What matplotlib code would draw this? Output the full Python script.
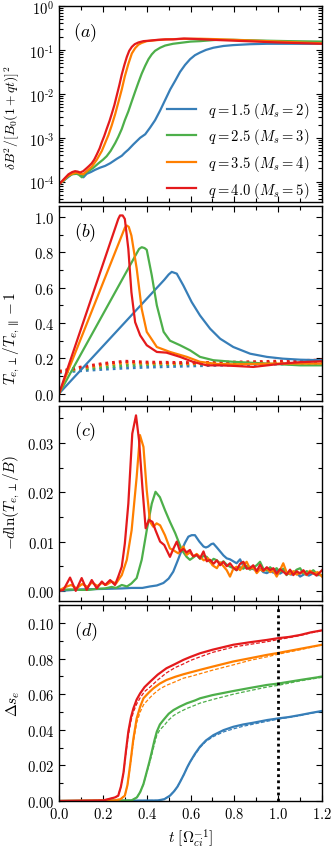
import numpy as np
import matplotlib
matplotlib.use("Agg")
import matplotlib.pyplot as plt
from matplotlib.ticker import MultipleLocator, FuncFormatter, LogLocator, NullFormatter

plt.rcParams['mathtext.fontset'] = 'cm'
plt.rcParams['font.family'] = ['DejaVu Serif']

colors = {'q15': '#377eb8', 'q25': '#4daf4a', 'q35': '#ff7f00', 'q40': '#e41a1c'}
labels = [r'$q=1.5\ (M_s=2)$', r'$q=2.5\ (M_s=3)$', r'$q=3.5\ (M_s=4)$', r'$q=4.0\ (M_s=5)$']

# ---------------- panel (a): log10 of dB^2/[B0(1+qt)]^2 ----------------
a_t_q15 = [0.0, 0.015, 0.035, 0.058, 0.08, 0.096, 0.111, 0.126, 0.145, 0.164, 0.187, 0.21, 0.233, 0.248, 0.263,
           0.286, 0.30, 0.316, 0.339, 0.37, 0.393, 0.415, 0.438, 0.461, 0.484, 0.507, 0.53, 0.552, 0.575, 0.598,
           0.62, 0.643, 0.67, 0.704, 0.75, 0.795, 0.87, 0.948, 1.05, 1.2]
a_v_q15 = [-4.06, -4.0, -3.92, -3.83, -3.8, -3.82, -3.9, -3.82, -3.78, -3.73, -3.68, -3.64, -3.58, -3.53, -3.48,
           -3.41, -3.34, -3.27, -3.15, -3.0, -2.92, -2.77, -2.6, -2.38, -2.14, -1.9, -1.7, -1.5, -1.34, -1.21,
           -1.12, -1.06, -1.0, -0.95, -0.91, -0.89, -0.87, -0.86, -0.86, -0.86]
a_t_q25 = [0.0, 0.02, 0.04, 0.06, 0.08, 0.09, 0.104, 0.12, 0.134, 0.157, 0.18, 0.2, 0.217, 0.235, 0.256, 0.27,
           0.286, 0.30, 0.316, 0.331, 0.347, 0.362, 0.377, 0.393, 0.408, 0.423, 0.438, 0.461, 0.484, 0.52, 0.552,
           0.6, 0.643, 0.72, 0.795, 0.87, 0.95, 1.05, 1.2]
a_v_q25 = [-4.05, -3.98, -3.88, -3.83, -3.82, -3.84, -3.9, -3.8, -3.76, -3.68, -3.58, -3.5, -3.42, -3.3, -3.12, -2.98,
           -2.8, -2.6, -2.4, -2.18, -1.95, -1.74, -1.54, -1.36, -1.21, -1.1, -1.02, -0.95, -0.9, -0.86, -0.84,
           -0.81, -0.8, -0.77, -0.77, -0.78, -0.79, -0.80, -0.81]
a_t_q35 = [0.0, 0.02, 0.04, 0.06, 0.08, 0.096, 0.11, 0.126, 0.149, 0.172, 0.195, 0.21, 0.225, 0.24, 0.256, 0.27,
           0.286, 0.30, 0.316, 0.332, 0.347, 0.362, 0.377, 0.40, 0.438, 0.49, 0.55, 0.643, 0.72, 0.795, 0.9, 1.0,
           1.1, 1.2]
a_v_q35 = [-4.05, -3.97, -3.87, -3.82, -3.79, -3.82, -3.83, -3.76, -3.66, -3.5, -3.3, -3.12, -2.94, -2.72, -2.46,
           -2.2, -1.9, -1.6, -1.32, -1.08, -0.96, -0.88, -0.84, -0.8, -0.78, -0.76, -0.75, -0.745, -0.755, -0.77,
           -0.79, -0.81, -0.83, -0.85]
a_t_q40 = [0.0, 0.02, 0.043, 0.06, 0.073, 0.085, 0.096, 0.11, 0.126, 0.137, 0.149, 0.16, 0.172, 0.185, 0.195,
           0.206, 0.217, 0.23, 0.24, 0.252, 0.263, 0.275, 0.286, 0.298, 0.309, 0.32, 0.332, 0.345, 0.362, 0.385,
           0.41, 0.45, 0.484, 0.52, 0.57, 0.62, 0.70, 0.8, 0.9, 1.0, 1.1, 1.2]
a_v_q40 = [-4.06, -3.95, -3.83, -3.78, -3.76, -3.77, -3.79, -3.76, -3.69, -3.64, -3.58, -3.5, -3.38, -3.24, -3.1,
           -2.96, -2.8, -2.62, -2.46, -2.26, -2.04, -1.8, -1.56, -1.34, -1.16, -1.02, -0.93, -0.87, -0.83, -0.8,
           -0.79, -0.77, -0.76, -0.76, -0.74, -0.75, -0.77, -0.79, -0.81, -0.83, -0.845, -0.86]

# ---------------- panel (b): anisotropy ----------------
b_t_q15 = [0.0, 0.48, 0.50, 0.514, 0.537, 0.567, 0.605, 0.643, 0.689, 0.735, 0.795, 0.872, 0.948, 1.02, 1.1, 1.2]
b_v_q15 = [0.0, 0.645, 0.675, 0.69, 0.68, 0.613, 0.519, 0.443, 0.368, 0.311, 0.264, 0.226, 0.208, 0.198, 0.192, 0.189]
b_t_q25 = [0.0, 0.365, 0.377, 0.39, 0.40, 0.423, 0.446, 0.477, 0.506, 0.552, 0.598, 0.643, 0.704, 0.795, 0.95, 1.1, 1.2]
b_v_q25 = [0.0, 0.82, 0.83, 0.825, 0.815, 0.67, 0.5, 0.35, 0.30, 0.274, 0.245, 0.208, 0.189, 0.18, 0.17, 0.16, 0.16]
b_t_q35 = [0.0, 0.30, 0.309, 0.318, 0.33, 0.354, 0.377, 0.40, 0.446, 0.506, 0.583, 0.643, 0.72, 0.795, 0.9, 1.0, 1.2]
b_v_q35 = [0.0, 0.94, 0.953, 0.945, 0.896, 0.71, 0.48, 0.35, 0.264, 0.236, 0.208, 0.18, 0.168, 0.166, 0.168, 0.17, 0.17]
b_t_q40 = [0.0, 0.27, 0.278, 0.29, 0.30, 0.316, 0.33, 0.347, 0.37, 0.40, 0.446, 0.49, 0.552, 0.613, 0.674, 0.735,
           0.795, 0.886, 0.95, 1.02, 1.1, 1.2]
b_v_q40 = [0.0, 0.99, 1.01, 1.01, 0.99, 0.82, 0.575, 0.405, 0.33, 0.274, 0.236, 0.232, 0.208, 0.179, 0.16, 0.16,
           0.157, 0.151, 0.16, 0.17, 0.178, 0.183]
# dotted companions
bd_t = [0.0, 0.1, 0.2, 0.3, 0.4, 0.6, 0.8, 1.0, 1.2]
bd_v_q15 = [0.12, 0.13, 0.138, 0.145, 0.15, 0.157, 0.163, 0.168, 0.172]
bd_v_q25 = [0.123, 0.138, 0.15, 0.16, 0.165, 0.168, 0.17, 0.172, 0.175]
bd_v_q35 = [0.125, 0.145, 0.163, 0.175, 0.172, 0.17, 0.172, 0.178, 0.185]
bd_v_q40 = [0.125, 0.15, 0.17, 0.183, 0.178, 0.175, 0.178, 0.183, 0.19]

# ---------------- panel (c): -d ln(T_perp/B) ----------------
c_t_q40 = [0.0, 0.02, 0.05, 0.076, 0.103, 0.126, 0.149, 0.172, 0.195, 0.21, 0.233, 0.255, 0.27, 0.286, 0.30, 0.316,
           0.334, 0.351, 0.365, 0.38, 0.395, 0.41, 0.426, 0.44, 0.461, 0.48, 0.506, 0.521, 0.537, 0.552, 0.567, 0.582,
           0.597, 0.612, 0.628, 0.643, 0.659, 0.674, 0.689, 0.705, 0.72, 0.735, 0.75, 0.765, 0.78, 0.795, 0.81, 0.826,
           0.841, 0.856, 0.871, 0.886, 0.902, 0.917, 0.932, 0.948, 0.963, 0.978, 0.993, 1.008, 1.023, 1.038, 1.054,
           1.069, 1.084, 1.1, 1.115, 1.13, 1.145, 1.16, 1.175, 1.2]
c_v_q40 = [0.0, 0.0002, 0.0027, 0.0, 0.0026, 0.0002, 0.0022, 0.0005, 0.0019, 0.0012, 0.0022, 0.0012, 0.0029, 0.0049,
           0.0096, 0.0177, 0.0319, 0.0356, 0.0305, 0.0211, 0.0127, 0.0144, 0.014, 0.0123, 0.01, 0.0093, 0.0069, 0.0085,
           0.01, 0.008, 0.0085, 0.0078, 0.0083, 0.007, 0.0073, 0.0066, 0.008, 0.006, 0.0063, 0.0055, 0.0062, 0.0052,
           0.0059, 0.005, 0.0056, 0.0047, 0.0042, 0.0055, 0.0059, 0.0045, 0.0046, 0.0052, 0.004, 0.0053, 0.0041, 0.0048,
           0.0042, 0.0046, 0.0035, 0.0044, 0.0039, 0.0033, 0.0043, 0.0032, 0.004, 0.0035, 0.0042, 0.0033, 0.0038,
           0.0036, 0.0031, 0.0042]
c_t_q35 = [0.0, 0.03, 0.055, 0.08, 0.105, 0.13, 0.149, 0.175, 0.195, 0.215, 0.24, 0.26, 0.275, 0.286, 0.309, 0.331,
           0.354, 0.369, 0.385, 0.4, 0.415, 0.43, 0.445, 0.461, 0.483, 0.506, 0.52, 0.53, 0.545, 0.567, 0.582, 0.597,
           0.613, 0.628, 0.643, 0.66, 0.68, 0.7, 0.72, 0.735, 0.75, 0.765, 0.78, 0.795, 0.81, 0.826, 0.841, 0.856,
           0.871, 0.886, 0.902, 0.917, 0.932, 0.948, 0.963, 0.978, 0.993, 1.008, 1.023, 1.038, 1.054, 1.069, 1.084,
           1.1, 1.115, 1.13, 1.145, 1.16, 1.18, 1.2]
c_v_q35 = [0.0001, 0.0008, 0.0012, 0.0005, 0.0014, 0.0008, 0.0017, 0.001, 0.0016, 0.0012, 0.0019, 0.0015, 0.0025,
           0.0032, 0.0063, 0.0123, 0.0231, 0.0316, 0.0292, 0.0204, 0.014, 0.013, 0.0137, 0.0133, 0.0113, 0.0086,
           0.0083, 0.008, 0.0076, 0.009, 0.0073, 0.0078, 0.007, 0.0075, 0.0069, 0.0062, 0.0066, 0.0052, 0.0046, 0.0058,
           0.005, 0.0042, 0.0029, 0.0045, 0.0049, 0.0042, 0.0052, 0.0059, 0.0045, 0.0048, 0.0036, 0.0044, 0.004,
           0.0046, 0.0038, 0.0041, 0.0029, 0.0042, 0.0056, 0.0038, 0.0034, 0.004, 0.0033, 0.0037, 0.0039, 0.0032,
           0.0041, 0.0035, 0.0038, 0.0029]
c_t_q25 = [0.0, 0.05, 0.1, 0.134, 0.17, 0.21, 0.24, 0.26, 0.286, 0.31, 0.33, 0.354, 0.377, 0.4, 0.423, 0.44, 0.46,
           0.483, 0.506, 0.53, 0.545, 0.56, 0.582, 0.597, 0.613, 0.628, 0.643, 0.659, 0.674, 0.689, 0.705, 0.72, 0.735,
           0.75, 0.765, 0.78, 0.795, 0.81, 0.826, 0.841, 0.856, 0.871, 0.886, 0.902, 0.917, 0.932, 0.948, 0.963,
           0.978, 0.993, 1.008, 1.023, 1.038, 1.054, 1.069, 1.084, 1.1, 1.115, 1.13, 1.145, 1.16, 1.18, 1.2]
c_v_q25 = [0.0002, 0.0003, 0.0002, 0.0002, 0.0004, 0.0005, 0.0008, 0.0006, 0.0012, 0.0009, 0.0015, 0.0026, 0.0063,
           0.0123, 0.0177, 0.0201, 0.019, 0.0164, 0.014, 0.0117, 0.01, 0.0083, 0.0069, 0.0063, 0.0068, 0.0073,
           0.0065, 0.0071, 0.0069, 0.0058, 0.0065, 0.0062, 0.0055, 0.006, 0.0053, 0.0049, 0.0046, 0.0042, 0.0048,
           0.0045, 0.0051, 0.0043, 0.0047, 0.0052, 0.0059, 0.0045, 0.0041, 0.0048, 0.0042, 0.0046, 0.0038, 0.0045,
           0.0032, 0.0041, 0.0036, 0.0043, 0.0046, 0.0035, 0.004, 0.0037, 0.0042, 0.0033, 0.0032]
c_t_q15 = [0.0, 0.1, 0.2, 0.286, 0.33, 0.38, 0.415, 0.446, 0.476, 0.5, 0.521, 0.54, 0.56, 0.575, 0.59, 0.605, 0.62,
           0.64, 0.659, 0.67, 0.681, 0.695, 0.704, 0.72, 0.735, 0.75, 0.765, 0.78, 0.795, 0.81, 0.826, 0.841, 0.856,
           0.871, 0.886, 0.902, 0.917, 0.932, 0.948, 0.963, 0.978, 0.993, 1.008, 1.023, 1.04, 1.06, 1.08, 1.1, 1.12,
           1.14, 1.16, 1.18, 1.2]
c_v_q15 = [0.0, 0.0003, 0.0004, 0.0005, 0.0006, 0.0006, 0.0009, 0.0011, 0.0016, 0.0025, 0.0039, 0.006, 0.0083,
           0.0098, 0.011, 0.0113, 0.0113, 0.01, 0.009, 0.0088, 0.009, 0.0095, 0.0096, 0.0088, 0.008, 0.0072, 0.0066,
           0.0064, 0.006, 0.0056, 0.0064, 0.005, 0.0046, 0.0049, 0.0044, 0.0042, 0.0045, 0.0038, 0.0036, 0.004,
           0.0037, 0.0042, 0.0035, 0.0039, 0.0036, 0.0033, 0.0038, 0.0029, 0.0034, 0.0031, 0.0036, 0.0032, 0.0032]

# ---------------- panel (d): entropy Delta s_e (solid) and model (dashed) ----------------
d_t_q40 = [0.0, 0.2, 0.233, 0.255, 0.27, 0.282, 0.294, 0.305, 0.316, 0.328, 0.339, 0.354, 0.37, 0.39, 0.415, 0.45,
           0.49, 0.53, 0.567, 0.6, 0.643, 0.7, 0.795, 0.87, 0.948, 1.0, 1.05, 1.1, 1.15, 1.2]
d_v_q40 = [0.0, 0.0003, 0.0013, 0.002, 0.003, 0.008, 0.016, 0.028, 0.039, 0.047, 0.052, 0.057, 0.0605, 0.064, 0.067,
           0.071, 0.0746, 0.077, 0.0793, 0.081, 0.083, 0.085, 0.0878, 0.0892, 0.0905, 0.0915, 0.0922, 0.0933, 0.0948,
           0.0959]
d_m_q40 = [0.0, 0.0003, 0.0013, 0.002, 0.003, 0.008, 0.016, 0.027, 0.037, 0.045, 0.05, 0.0545, 0.058, 0.0615, 0.064,
           0.068, 0.072, 0.075, 0.077, 0.079, 0.081, 0.0835, 0.0865, 0.088, 0.0895, 0.0907, 0.0918, 0.093, 0.0945,
           0.0957]
d_t_q35 = [0.0, 0.25, 0.28, 0.3, 0.312, 0.324, 0.332, 0.339, 0.347, 0.354, 0.37, 0.385, 0.41, 0.43, 0.46, 0.49, 0.53,
           0.567, 0.6, 0.643, 0.7, 0.795, 0.87, 0.948, 1.0, 1.1, 1.2]
d_v_q35 = [0.0, 0.0003, 0.001, 0.003, 0.009, 0.02, 0.028, 0.035, 0.041, 0.0464, 0.053, 0.0577, 0.061, 0.0633, 0.066,
           0.068, 0.0698, 0.0712, 0.0723, 0.0737, 0.0755, 0.0784, 0.0802, 0.0821, 0.0832, 0.0855, 0.0878]
d_m_q35 = [0.0, 0.0003, 0.001, 0.003, 0.009, 0.019, 0.027, 0.033, 0.039, 0.044, 0.05, 0.054, 0.0575, 0.06, 0.063,
           0.065, 0.067, 0.069, 0.07, 0.0715, 0.0735, 0.0765, 0.079, 0.081, 0.0825, 0.085, 0.0877]
d_t_q25 = [0.0, 0.33, 0.355, 0.37, 0.385, 0.4, 0.412, 0.423, 0.435, 0.446, 0.46, 0.476, 0.5, 0.522, 0.55, 0.583, 0.62,
           0.643, 0.7, 0.795, 0.87, 0.948, 1.0, 1.1, 1.2]
d_v_q25 = [0.0, 0.0003, 0.002, 0.005, 0.0095, 0.0164, 0.022, 0.0276, 0.034, 0.039, 0.043, 0.0455, 0.049, 0.0511,
           0.053, 0.0549, 0.0565, 0.0577, 0.0595, 0.0618, 0.0635, 0.0652, 0.066, 0.068, 0.0699]
d_m_q25 = [0.0, 0.0003, 0.002, 0.005, 0.0095, 0.016, 0.021, 0.026, 0.032, 0.037, 0.04, 0.042, 0.0455, 0.048, 0.05,
           0.052, 0.0538, 0.055, 0.057, 0.06, 0.062, 0.064, 0.065, 0.0675, 0.0695]
d_t_q15 = [0.0, 0.45, 0.48, 0.506, 0.525, 0.54, 0.552, 0.57, 0.585, 0.598, 0.62, 0.643, 0.67, 0.704, 0.75, 0.795,
           0.84, 0.887, 0.95, 1.0, 1.05, 1.1, 1.15, 1.2]
d_v_q15 = [0.0, 0.0003, 0.001, 0.003, 0.0055, 0.008, 0.0107, 0.015, 0.019, 0.022, 0.0265, 0.0305, 0.034, 0.037,
           0.0398, 0.0417, 0.043, 0.044, 0.0455, 0.0464, 0.0472, 0.0483, 0.0495, 0.0506]
d_m_q15 = [0.0, 0.0003, 0.001, 0.003, 0.0055, 0.008, 0.0107, 0.015, 0.019, 0.022, 0.026, 0.030, 0.0335, 0.0362,
           0.0388, 0.0405, 0.042, 0.0432, 0.0448, 0.046, 0.047, 0.048, 0.0493, 0.0505]
t_mark = 1.0

keys = ['q15', 'q25', 'q35', 'q40']

fig = plt.figure(figsize=(3.32, 8.54), dpi=100)
gs = fig.add_gridspec(4, 1, left=0.178, right=0.970, top=0.9918, bottom=0.0609, hspace=0.0205)
axes = [fig.add_subplot(gs[i]) for i in range(4)]

lw = 1.6
tick_fs = 10.5

def fmt(decimals):
    return FuncFormatter(lambda v, p: r'$%.*f$' % (decimals, v))

for ax in axes:
    ax.set_xlim(0, 1.2)
    ax.xaxis.set_major_locator(MultipleLocator(0.2))
    ax.xaxis.set_minor_locator(MultipleLocator(0.1))
    ax.tick_params(which='both', direction='in', top=True, right=True, labelsize=tick_fs, width=0.8)
    ax.tick_params(which='major', length=4)
    ax.tick_params(which='minor', length=3)
    for s in ax.spines.values():
        s.set_linewidth(1.0)
    ax.xaxis.set_major_formatter(fmt(1))

for ax in axes[:3]:
    ax.tick_params(labelbottom=False)

# (a)
ax = axes[0]
a_data = {'q15': (a_t_q15, a_v_q15), 'q25': (a_t_q25, a_v_q25), 'q35': (a_t_q35, a_v_q35), 'q40': (a_t_q40, a_v_q40)}
for k, lab in zip(keys, labels):
    t, v = a_data[k]
    ax.plot(t, np.power(10.0, v), color=colors[k], lw=lw, label=lab)
ax.set_yscale('log')
ax.set_ylim(3.5e-5, 1.0)
ax.yaxis.set_major_locator(LogLocator(base=10, numticks=10))
ax.yaxis.set_minor_locator(LogLocator(base=10, subs=np.arange(2, 10), numticks=20))
ax.yaxis.set_minor_formatter(NullFormatter())
ax.yaxis.set_major_formatter(FuncFormatter(
    lambda v, p: (r'$10^{0}$' if round(np.log10(v)) == 0 else r'$10^{\text{-}%d}$' % abs(int(round(np.log10(v)))))))
ax.set_ylabel(r'$\delta B^2/[B_0(1+qt)]^2$', fontsize=9.8)
ax.yaxis.set_label_coords(-0.14, 0.434)
ax.legend(loc='lower right', bbox_to_anchor=(1.0, -0.056), frameon=False, fontsize=10.5, handlelength=2.0,
          labelspacing=0.45, handletextpad=0.8)
ax.text(0.1, 0.87, r'$(a)$', transform=ax.transAxes, fontsize=13, ha='center', va='center')

# (b)
ax = axes[1]
b_data = {'q15': (b_t_q15, b_v_q15), 'q25': (b_t_q25, b_v_q25), 'q35': (b_t_q35, b_v_q35), 'q40': (b_t_q40, b_v_q40)}
bd_data = {'q15': bd_v_q15, 'q25': bd_v_q25, 'q35': bd_v_q35, 'q40': bd_v_q40}
for k in keys:
    ax.plot(bd_t, bd_data[k], color=colors[k], lw=2.2, linestyle=(0, (0.9, 1.3)))
for k in keys:
    t, v = b_data[k]
    ax.plot(t, v, color=colors[k], lw=lw)
ax.set_ylim(-0.045, 1.065)
ax.yaxis.set_major_locator(MultipleLocator(0.2))
ax.yaxis.set_minor_locator(MultipleLocator(0.1))
ax.yaxis.set_major_formatter(fmt(1))
ax.set_ylabel(r'$T_{e,\perp}/T_{e,\parallel}-1$', fontsize=11)
ax.yaxis.set_label_coords(-0.14, 0.33)
ax.text(0.1, 0.87, r'$(b)$', transform=ax.transAxes, fontsize=13, ha='center', va='center')

# (c)
ax = axes[2]
c_data = {'q15': (c_t_q15, c_v_q15), 'q25': (c_t_q25, c_v_q25), 'q35': (c_t_q35, c_v_q35), 'q40': (c_t_q40, c_v_q40)}
for k in keys:
    t, v = c_data[k]
    ax.plot(t, v, color=colors[k], lw=lw)
ax.set_ylim(-0.0021, 0.0376)
ax.yaxis.set_major_locator(MultipleLocator(0.01))
ax.yaxis.set_minor_locator(MultipleLocator(0.005))
ax.yaxis.set_major_formatter(fmt(2))
ax.set_ylabel(r'$-d\ln(T_{e,\perp}/B)$', fontsize=11)
ax.yaxis.set_label_coords(-0.14, 0.51)
ax.text(0.1, 0.87, r'$(c)$', transform=ax.transAxes, fontsize=13, ha='center', va='center')

# (d)
ax = axes[3]
d_data = {'q15': (d_t_q15, d_v_q15, d_m_q15), 'q25': (d_t_q25, d_v_q25, d_m_q25),
          'q35': (d_t_q35, d_v_q35, d_m_q35), 'q40': (d_t_q40, d_v_q40, d_m_q40)}
for k in keys:
    t, v, m = d_data[k]
    ax.plot(t, v, color=colors[k], lw=lw)
    ax.plot(t, m, color=colors[k], lw=0.9, linestyle=(0, (3, 1.5)))
ax.axvline(t_mark, color='black', lw=2.0, linestyle=(0, (1, 1.2)))
ax.set_ylim(0.0, 0.11)
ax.yaxis.set_major_locator(MultipleLocator(0.02))
ax.yaxis.set_minor_locator(MultipleLocator(0.01))
ax.yaxis.set_major_formatter(fmt(2))
ax.set_ylabel(r'$\Delta s_e$', fontsize=11)
ax.yaxis.set_label_coords(-0.14, 0.5)
ax.set_xlabel(r'$t\ [\Omega_{ci}^{-1}]$', fontsize=11)
ax.text(0.1, 0.87, r'$(d)$', transform=ax.transAxes, fontsize=13, ha='center', va='center')

fig.savefig('out.png', dpi=100)
